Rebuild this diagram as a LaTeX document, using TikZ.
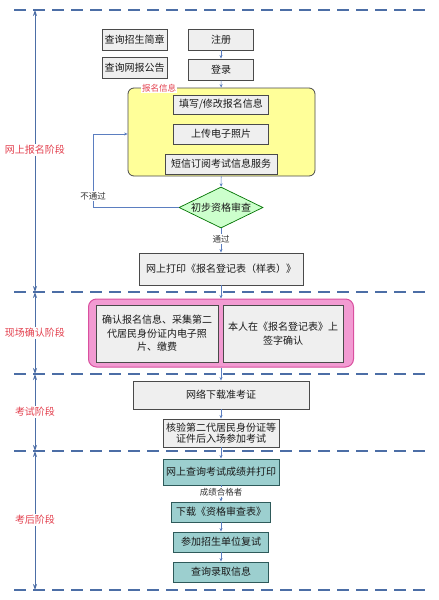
\documentclass[tikz,border=0pt]{standalone}
\usepackage{fontspec}
\setmainfont{Noto Sans CJK SC}
\usetikzlibrary{shapes.geometric,arrows.meta}

\definecolor{stageblue}{HTML}{4C6EA6}
\definecolor{flowblue}{HTML}{5B7EC0}
\definecolor{stagered}{HTML}{E3404E}
\definecolor{boxgray}{HTML}{EFEFEF}
\definecolor{boxline}{HTML}{4A4A4A}
\definecolor{infoyellow}{HTML}{FFFF99}
\definecolor{checkgreen}{HTML}{CCFFCC}
\definecolor{confirmpink}{HTML}{F29BD2}
\definecolor{confirmline}{HTML}{D9509F}
\definecolor{scoreteal}{HTML}{9CCFCF}
\definecolor{scoreline}{HTML}{2E5A5A}

\tikzset{
  graybox/.style={draw=boxline, fill=boxgray, line width=0.9pt, inner sep=1pt,
    align=center, text=black!90, font=\fontsize{10}{13.5}\selectfont},
  tealbox/.style={graybox, draw=scoreline, fill=scoreteal},
  flow/.style={draw=flowblue, line width=0.6pt, -{Stealth[length=3.5pt,width=3pt]}},
  stagearrow/.style={draw=stageblue, line width=0.8pt,
    {Stealth[length=6pt,width=4pt]}-{Stealth[length=6pt,width=4pt]}},
  divider/.style={draw=stageblue, line width=1.4pt, dash pattern=on 12pt off 7pt},
  stagelabel/.style={fill=white, text=stagered, inner sep=1pt, font=\fontsize{10}{11}\selectfont},
  smalllabel/.style={fill=white, inner sep=1pt, text=black!80, font=\fontsize{8.5}{9}\selectfont}
}

\begin{document}
\begin{tikzpicture}[x=1pt, y=-1pt]
    \useasboundingbox (0,0) rectangle (439,600);

    % stage dividers and stage arrows
    \foreach \y [count=\i] in {10,292,374,451,590} {
        \draw[divider] (14,\y) -- (428,\y);
        \coordinate (d\i) at (35,\y);
    }
    \draw[stagearrow] (d1) -- (d2);
    \draw[stagearrow] (d2) -- (d3);
    \draw[stagearrow] (d3) -- (d4);
    \draw[stagearrow] (d4) -- (d5);
    \node[stagelabel] (s1) at (35,150) {网上报名阶段};
    \node[stagelabel] (s2) at (35,333) {现场确认阶段};
    \node[stagelabel] (s3) at (35,412) {考试阶段};
    \node[stagelabel] (s4) at (35,520) {考后阶段};

    % online registration
    \node[graybox, minimum width=65, minimum height=21] (brochure) at (134.5,40) {查询招生简章};
    \node[graybox, minimum width=65, minimum height=21] (notice) at (134.5,67.5) {查询网报公告};
    \node[graybox, minimum width=65, minimum height=21] (register) at (221,39.5) {注册};
    \node[graybox, minimum width=65, minimum height=21] (login) at (221,69.5) {登录};

    \node[draw=boxline, fill=infoyellow, line width=0.8pt, rounded corners=6pt,
          minimum width=187, minimum height=88] (info) at (221.5,132) {};
    \node[smalllabel, text=stagered, anchor=west] (infotitle) at (141,88) {报名信息};
    \node[graybox, minimum width=95, minimum height=19] (fillin) at (221,104.5) {填写/修改报名信息};
    \node[graybox, minimum width=95, minimum height=20] (upload) at (221,134) {上传电子照片};
    \node[graybox, minimum width=112, minimum height=20] (sms) at (221,164) {短信订阅考试信息服务};

    \node[diamond, draw=green!45!black, fill=checkgreen, line width=0.7pt, inner sep=0pt,
          aspect=2, minimum width=84, minimum height=41, text=black!90,
          font=\fontsize{10}{11}\selectfont] (check) at (221,207.5) {初步资格审查};
    \node[graybox, minimum width=164, minimum height=32] (print) at (221,269) {网上打印《报名登记表（样表）》};

    % on-site confirmation
    \node[draw=confirmline, fill=confirmpink, line width=1pt, rounded corners=8pt,
          minimum width=265, minimum height=68] (confirm) at (221,333) {};
    \node[graybox, minimum width=122, minimum height=57] (collect) at (157,333.5)
        {确认报名信息、采集第二\\代居民身份证内电子照\\片、缴费};
    \node[graybox, minimum width=120, minimum height=57] (sign) at (283,333.5)
        {本人在《报名登记表》上\\签字确认};

    % exam
    \node[graybox, minimum width=176, minimum height=28] (admit) at (221,395) {网络下载准考证};
    \node[graybox, minimum width=116, minimum height=28, font=\fontsize{10}{11.5}\selectfont] (enter) at (221,433)
        {核验第二代居民身份证等\\证件后入场参加考试};

    % after the exam
    \node[tealbox, minimum width=116, minimum height=26] (score) at (221,472) {网上查询考试成绩并打印};
    \node[tealbox, minimum width=99, minimum height=20] (form) at (221,512) {下载《资格审查表》};
    \node[tealbox, minimum width=95, minimum height=20] (retest) at (221,542) {参加招生单位复试};
    \node[tealbox, minimum width=95, minimum height=20] (result) at (221,572) {查询录取信息};

    % connectors
    \draw[flow] (register) -- (login);
    \draw[flow] (login) -- (info);
    \draw[flow] (info) -- (check);
    \draw[flow] (check) -- node[smalllabel, pos=0.45] (pass) {通过} (print);
    \coordinate (back) at (93,134);
    \draw[flow] (check.west) -| (back) -- (back -| info.west);
    \node[smalllabel] (fail) at (93,196) {不通过};
    \draw[flow] (print) -- (confirm);
    \draw[flow] (confirm) -- (admit);
    \draw[flow] (admit) -- (enter);
    \draw[flow] (enter) -- (score);
    \draw[flow] (score) -- node[smalllabel, pos=0.42] (passed) {成绩合格者} (form);
    \draw[flow] (form) -- (retest);
    \draw[flow] (retest) -- (result);
\end{tikzpicture}
\end{document}
